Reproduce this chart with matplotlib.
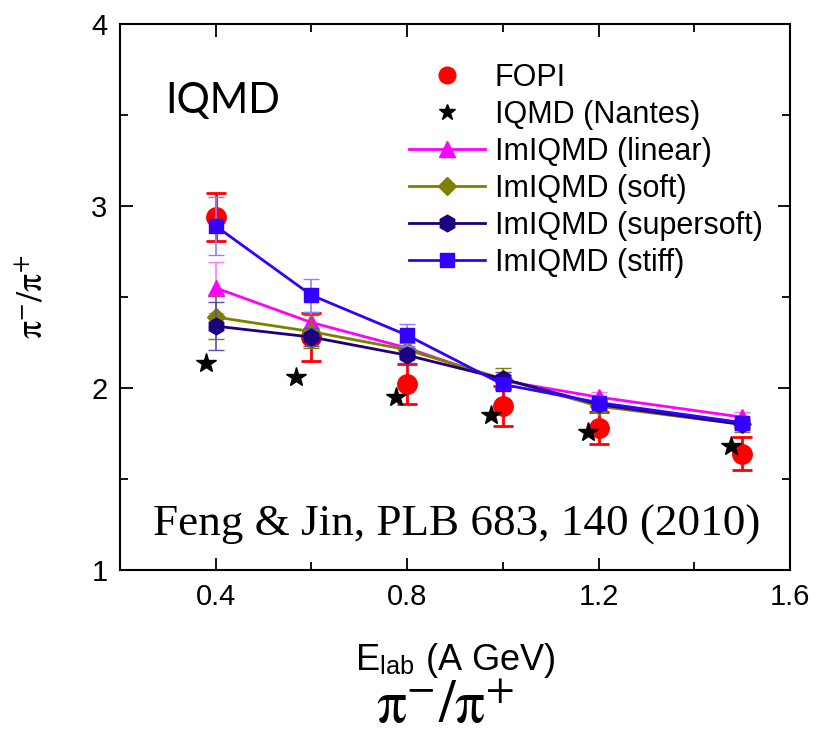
import numpy as np
import matplotlib
matplotlib.use("Agg")
import matplotlib.pyplot as plt
from matplotlib.lines import Line2D

plt.rcParams['font.family'] = ['Liberation Sans', 'DejaVu Sans']
plt.rcParams['mathtext.fontset'] = 'stix'

# data
energy = [0.4, 0.6, 0.8, 1.0, 1.2, 1.5]

fopi = [2.94, 2.28, 2.02, 1.90, 1.78, 1.64]
fopi_err = [0.13, 0.13, 0.11, 0.11, 0.09, 0.09]

nantes_x = [0.379, 0.568, 0.776, 0.976, 1.178, 1.476]
nantes = [2.14, 2.06, 1.95, 1.85, 1.76, 1.68]

linear = [2.55, 2.36, 2.22, 2.04, 1.95, 1.84]
linear_err = [0.14, 0.06, 0.04, 0.03, 0.03, 0.03]
soft = [2.39, 2.31, 2.21, 2.05, 1.90, 1.80]
soft_err = [0.12, 0.09, 0.04, 0.06, 0.03, 0.04]
supersoft = [2.34, 2.28, 2.18, 2.05, 1.91, 1.80]
supersoft_err = [0.13, 0.05, 0.04, 0.04, 0.03, 0.03]
stiff = [2.89, 2.51, 2.29, 2.02, 1.92, 1.81]
stiff_err = [0.16, 0.09, 0.06, 0.03, 0.03, 0.03]

fig = plt.figure(figsize=(8.15, 7.36), dpi=100)
ax = fig.add_axes([0.1472, 0.2255, 0.8221, 0.7419])

# (values, errors, colour, error colour, marker, size, label)
models = [
    (linear, linear_err, '#ff00ff', '#ff77ff', '^', 11, 'ImIQMD (linear)'),
    (soft, soft_err, '#808000', '#808000', 'D', 9, 'ImIQMD (soft)'),
    (supersoft, supersoft_err, '#1c0080', '#5a4fb0', 'h', 12, 'ImIQMD (supersoft)'),
    (stiff, stiff_err, '#3300ff', '#9080ff', 's', 10, 'ImIQMD (stiff)'),
]
handles = []
handles.append(Line2D([], [], color='red', marker='o', ms=12, ls='none'))
handles.append(Line2D([], [], color='black', marker='*', ms=12, ls='none'))
for k, (vals, err, c, ec, m, ms, lab) in enumerate(models):
    ax.errorbar(energy, vals, yerr=err, color=c, marker=m, ms=ms, lw=2,
                capsize=6, elinewidth=1.2, ecolor=ec, zorder=3 + k * 0.1)
    handles.append(Line2D([], [], color=c, marker=m, ms=ms, lw=2))

ax.errorbar(energy, fopi, yerr=fopi_err, color='red', marker='o', ms=14, ls='none',
            capsize=7, elinewidth=2, capthick=2, zorder=2)
ax.plot(nantes_x, nantes, ls='none', marker='*', color='black', ms=15, zorder=5)

labels = ['FOPI', 'IQMD (Nantes)'] + [m[6] for m in models]

ax.set_xlim(0.2, 1.6)
ax.set_ylim(1, 4)
ax.set_xticks([0.4, 0.8, 1.2, 1.6])
ax.set_xticks([0.6, 1.0, 1.4], minor=True)
ax.set_yticks([1, 2, 3, 4])
ax.set_yticks([1.5, 2.5, 3.5], minor=True)
ax.tick_params(which='both', direction='in', top=True, right=True, labelsize=21, width=1.3)
ax.tick_params(which='major', length=9, pad=9)
ax.tick_params(which='minor', length=6)
for s in ax.spines.values():
    s.set_linewidth(1.5)

ax.set_xlabel(r'E$_{\mathregular{lab}}$ (A GeV)', fontsize=26, labelpad=22)
ax.set_ylabel(r'$\mathrm{\pi}^{-}/\mathrm{\pi}^{+}$', fontsize=26, labelpad=30)

ax.legend(handles, labels, loc='upper right', bbox_to_anchor=(1.0, 0.979), frameon=False,
          fontsize=22, handlelength=2.5, labelspacing=0.23, handletextpad=0.3)

ax.text(0.067, 0.859, 'IQMD', transform=ax.transAxes, fontsize=30, va='center',
        family=['Lato', 'Liberation Sans'])
ax.text(0.503, 0.082, 'Feng & Jin, PLB 683, 140 (2010)', transform=ax.transAxes,
        fontsize=32.5, family='Liberation Serif', ha='center', va='center')

fig.text(0.546, 0.002, r'$\mathrm{\pi}^{-}/\mathrm{\pi}^{+}$', fontsize=43, ha='center', va='bottom')

fig.savefig('out.png', dpi=100)
